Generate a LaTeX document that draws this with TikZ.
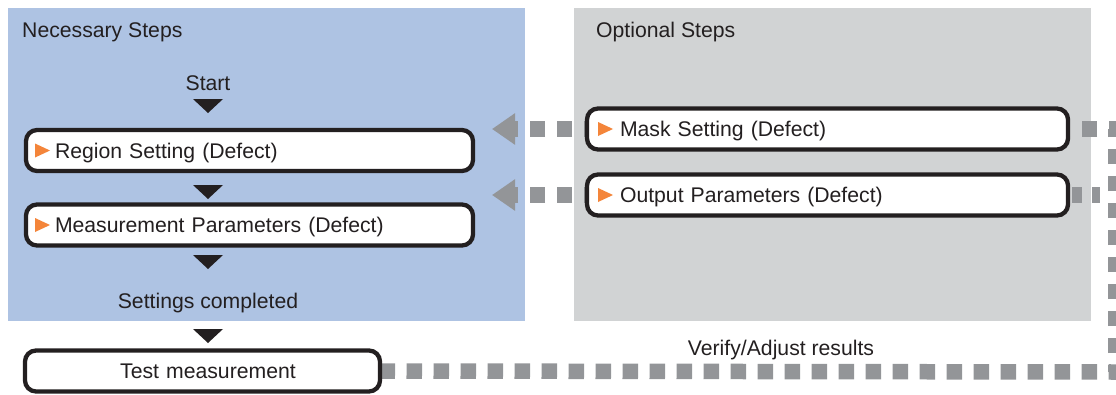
\documentclass[tikz,border=0pt]{standalone}
\usepackage{fontspec}
\setmainfont{Liberation Sans}
\usetikzlibrary{arrows.meta}
\definecolor{bluep}{HTML}{AEC3E3}
\definecolor{grayp}{HTML}{D1D3D4}
\definecolor{dotc}{HTML}{939598}
\definecolor{bd}{HTML}{231F20}
\definecolor{orng}{HTML}{F4853A}
\pgfdeclarelayer{panels}
\pgfdeclarelayer{links}
\pgfsetlayers{panels,links,main}
\begin{document}
\begin{tikzpicture}[x=1pt,y=-1pt,
  txt/.style={font=\fontsize{21.2}{25}\selectfont, text=bd, inner sep=0pt},
  stepbox/.style={txt, draw=bd, line width=4.3pt, rounded corners=11pt, fill=white,
    minimum height=41pt, inner ysep=0pt, outer sep=0pt, text height=15.3pt, text depth=0pt},
  leftbox/.style={stepbox, inner xsep=29pt, text width=#1, align=left},
  midbox/.style={stepbox, inner xsep=0pt, text width=#1, align=center},
  dots/.style={draw=dotc, line width=15.5pt, dash pattern=on 15.5pt off 11.5pt},
  back/.style={dots, -{Triangle[length=23pt,width=30pt]}}
]
\useasboundingbox (0,0) rectangle (1116,394);

% panels
\begin{pgfonlayer}{panels}
\fill[bluep] (8,8) rectangle (525,321);
\fill[grayp] (574,8) rectangle (1091,321);
\end{pgfonlayer}

% texts
\node[txt, anchor=base west] (nec) at (22,37) {Necessary Steps};
\node[txt, anchor=base west] (opt) at (596,37) {Optional Steps};
\node[txt, anchor=base] (start) at (208,90) {Start};
\node[txt, anchor=base] (done) at (208,308) {Settings completed};
\node[txt, anchor=base] (verify) at (781,355) {Verify/Adjust results};

% boxes
\node[leftbox=389pt] (reg) at (249.5,150.5) {Region Setting (Defect)};
\node[leftbox=389pt] (meas) at (249.5,225) {Measurement Parameters (Defect)};
\node[leftbox=415pt, inner xsep=33pt] (mask) at (827.5,129) {Mask Setting (Defect)};
\node[leftbox=415pt, inner xsep=33pt] (outp) at (827.5,195) {Output Parameters (Defect)};
\node[midbox=355pt] (test) at (202.5,371) {\hspace*{11pt}Test measurement};

% orange markers
\foreach \b/\o in {reg/9,meas/9,mask/11,outp/11}{
  \fill[orng] ([xshift=\o pt,yshift=7pt]\b.west) -- ([xshift=\o pt+15pt]\b.west)
     -- ([xshift=\o pt,yshift=-7pt]\b.west) -- cycle;
}

% black flow triangles
\coordinate (t1) at (208,99);
\coordinate (t2) at (208,185);
\coordinate (t3) at (208,255);
\coordinate (t4) at (208,329);
\foreach \t in {t1,t2,t3,t4}{
  \fill[bd] (\t) ++(-15,0) -- ++(30,0) -- ++(-15,14) -- cycle;
}

% dotted connectors
\coordinate (cb) at (1116,372);
\coordinate (ct) at (1116,129);
\coordinate (oe) at (1100,195);
\coordinate (ma) at (492,129);
\coordinate (oa) at (492,195);
\begin{pgfonlayer}{links}
\draw[back, dash phase=12pt] (mask.west) -- (ma);
\draw[back, dash phase=12pt] (outp.west) -- (oa);
\draw[dots, dash phase=8pt] (ct) -- (mask.east);
\draw[dots, dash phase=8pt] (cb) -- (ct);
\draw[dots, dash phase=8pt] (cb) -- (test.east);
\draw[dots, dash pattern=on 10pt off 10pt, dash phase=16pt] (outp.east) -- (oe);
\end{pgfonlayer}
\end{tikzpicture}
\end{document}
